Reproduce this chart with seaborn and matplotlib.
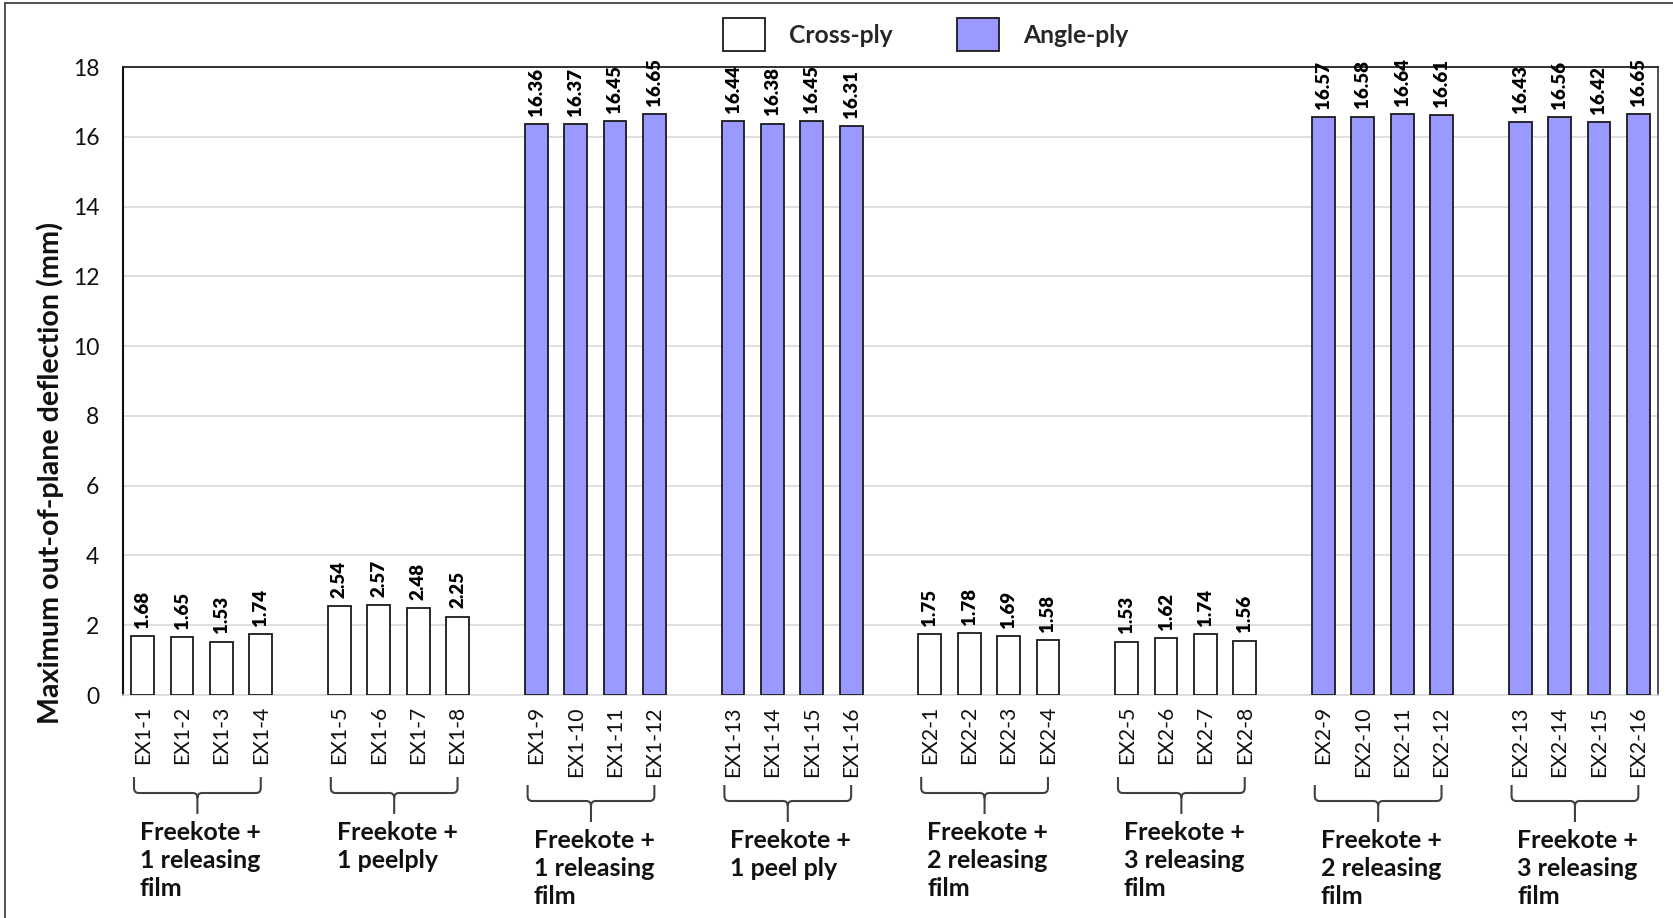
import numpy as np
import pandas as pd
import matplotlib
matplotlib.use("Agg")
import matplotlib.pyplot as plt
import seaborn as sns
from matplotlib.path import Path
from matplotlib.patches import PathPatch, Patch
from matplotlib.lines import Line2D
import matplotlib.transforms as mtransforms

# ---------------- data ----------------
specimens = ["EX1-1", "EX1-2", "EX1-3", "EX1-4",
             "EX1-5", "EX1-6", "EX1-7", "EX1-8",
             "EX1-9", "EX1-10", "EX1-11", "EX1-12",
             "EX1-13", "EX1-14", "EX1-15", "EX1-16",
             "EX2-1", "EX2-2", "EX2-3", "EX2-4",
             "EX2-5", "EX2-6", "EX2-7", "EX2-8",
             "EX2-9", "EX2-10", "EX2-11", "EX2-12",
             "EX2-13", "EX2-14", "EX2-15", "EX2-16"]
deflection = [1.68, 1.65, 1.53, 1.74,
              2.54, 2.57, 2.48, 2.25,
              16.36, 16.37, 16.45, 16.65,
              16.44, 16.38, 16.45, 16.31,
              1.75, 1.78, 1.69, 1.58,
              1.53, 1.62, 1.74, 1.56,
              16.57, 16.58, 16.64, 16.61,
              16.43, 16.56, 16.42, 16.65]
group_layup = ["Cross-ply", "Cross-ply", "Angle-ply", "Angle-ply",
               "Cross-ply", "Cross-ply", "Angle-ply", "Angle-ply"]
group_labels = ["Freekote +\n1 releasing\nfilm",
                "Freekote +\n1 peelply",
                "Freekote +\n1 releasing\nfilm",
                "Freekote +\n1 peel ply",
                "Freekote +\n2 releasing\nfilm",
                "Freekote +\n3 releasing\nfilm",
                "Freekote +\n2 releasing\nfilm",
                "Freekote +\n3 releasing\nfilm"]
layup_order = ["Cross-ply", "Angle-ply"]
layup_colors = {"Cross-ply": "#FFFFFF", "Angle-ply": "#9999FF"}

per_group = 4
slot = per_group + 1  # one empty slot between groups
n_groups = len(group_labels)
positions = [g * slot + j for g in range(n_groups) for j in range(per_group)]
layup = [group_layup[g] for g in range(n_groups) for j in range(per_group)]

df = pd.DataFrame({"specimen": specimens, "value": deflection,
                   "layup": layup, "pos": positions})

# ---------------- style ----------------
sns.set_style("white")
plt.rcParams["font.family"] = ["Lato", "DejaVu Sans"]

W, H = 1674, 918
fig = plt.figure(figsize=(W / 100, H / 100), dpi=100)
ax_left, ax_right, ax_top, ax_bottom = 123, 1658, 67, 695
ax = fig.add_axes([ax_left / W, 1 - ax_bottom / H,
                   (ax_right - ax_left) / W, (ax_bottom - ax_top) / H])

sns.barplot(data=df, x="pos", y="value", hue="layup", hue_order=layup_order,
            palette=layup_colors, native_scale=True, dodge=False, width=0.58,
            saturation=1, edgecolor="#1a1a1a", linewidth=1.3, errorbar=None,
            legend=False, ax=ax, zorder=3)

for cont in ax.containers:
    ax.bar_label(cont, fmt="%.2f", padding=6, rotation=90,
                 fontsize=13.5, fontweight="heavy", color="#000000")

ax.set_xlim(-0.5, positions[-1] + 0.5)
ax.set_ylim(0, 18)
ax.set_yticks(np.arange(0, 19, 2))
ax.set_yticklabels([str(v) for v in range(0, 19, 2)], fontsize=16.5)
ax.set_xticks(positions)
ax.set_xticklabels(specimens, rotation=90, fontsize=15.2, va="top", ha="center")
ax.tick_params(axis="x", length=0, pad=8, colors="#111111")
ax.tick_params(axis="y", length=0, pad=17, colors="#111111")
ax.set_xlabel("")
ax.set_ylabel("Maximum out-of-plane deflection (mm)", fontsize=20.6,
              fontweight="bold", va="center", color="#111111")
ax.yaxis.set_label_coords(-0.0476, 0.354)

ax.yaxis.grid(True, color="#d9d9d9", linewidth=1.2, zorder=0)
ax.xaxis.grid(False)
ax.set_axisbelow(True)
for side, col, lw in [("left", "#111111", 1.5), ("top", "#222222", 1.3),
                      ("right", "#444444", 1.3), ("bottom", "#d9d9d9", 1.2)]:
    ax.spines[side].set_visible(True)
    ax.spines[side].set_color(col)
    ax.spines[side].set_linewidth(lw)

# ---------------- braces + group labels ----------------
trans = mtransforms.blended_transform_factory(ax.transData, ax.transAxes)
px = 1.0 / (ax_bottom - ax_top)  # one pixel in axes-fraction units
for g in range(n_groups):
    members = specimens[g * per_group:(g + 1) * per_group]
    shift = 8 * px if max(len(s) for s in members) >= 6 else 0.0
    x0 = g * slot - 0.22
    x1 = g * slot + per_group - 1 + 0.0
    xm = (x0 + x1) / 2
    yt = -(82 * px) - shift
    yh = -(98 * px) - shift
    yb = -(119 * px) - shift
    rx, ry = 0.12, 5 * px
    verts = [(x0, yt), (x0, yh + ry), (x0, yh), (x0 + rx, yh),
             (xm - rx, yh), (xm, yh), (xm, yh - ry), (xm, yb),
             (x1, yt), (x1, yh + ry), (x1, yh), (x1 - rx, yh),
             (xm + rx, yh), (xm, yh), (xm, yh - ry)]
    codes = [Path.MOVETO, Path.LINETO, Path.CURVE3, Path.CURVE3,
             Path.LINETO, Path.CURVE3, Path.CURVE3, Path.LINETO,
             Path.MOVETO, Path.LINETO, Path.CURVE3, Path.CURVE3,
             Path.LINETO, Path.CURVE3, Path.CURVE3]
    ax.add_patch(PathPatch(Path(verts, codes), transform=trans, fill=False,
                           edgecolor="#404040", linewidth=1.5, clip_on=False))
    ax.text(g * slot - 0.07, -(126 * px) - shift, group_labels[g],
            transform=trans, ha="left", va="top", fontsize=18,
            fontweight="bold", linespacing=1.27, color="#111111",
            clip_on=False)

# ---------------- legend ----------------
handles = [Patch(facecolor=layup_colors[k], edgecolor="#1a1a1a", linewidth=1.3,
                 label=k) for k in layup_order]
leg = fig.legend(handles=handles, loc="center", bbox_to_anchor=(0.553, 0.962),
                 ncol=2, frameon=False, handlelength=1.7, handleheight=1.7,
                 handletextpad=1.0, columnspacing=2.6,
                 prop={"weight": "bold", "size": 17.7})

# ---------------- figure frame ----------------
fig.add_artist(Line2D([4.5 / W, 4.5 / W], [0, 1 - 3 / H], transform=fig.transFigure,
                      color="#333333", linewidth=1.2))
fig.add_artist(Line2D([4.5 / W, 1], [1 - 3 / H, 1 - 3 / H], transform=fig.transFigure,
                      color="#333333", linewidth=1.2))

fig.savefig("out.png", dpi=100, facecolor="white")
